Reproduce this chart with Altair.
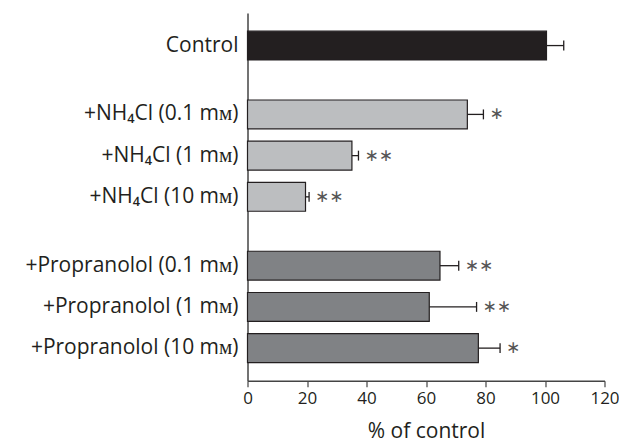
import altair as alt
import pandas as pd

labels = ["Control", "+NH₄Cl (0.1 mᴍ)", "+NH₄Cl (1 mᴍ)", "+NH₄Cl (10 mᴍ)",
          "+Propranolol (0.1 mᴍ)", "+Propranolol (1 mᴍ)", "+Propranolol (10 mᴍ)"]
values = [100.5, 73.9, 35.1, 19.5, 64.7, 61.1, 77.6]
errors = [5.8, 5.4, 2.2, 1.2, 6.3, 15.9, 7.3]
stars = ["", "∗", "∗∗", "∗∗", "∗∗", "∗∗", "∗"]
groups = ["Control", "NH4Cl", "NH4Cl", "NH4Cl", "Propranolol", "Propranolol", "Propranolol"]
group_index = [0, 1, 1, 1, 2, 2, 2]

GAP = 0.67
df = pd.DataFrame({
    "label": labels,
    "value": values,
    "err": errors,
    "star": stars,
    "group": groups,
    "pos": [i + g * GAP for i, g in enumerate(group_index)],
})

FONT = "Open Sans"
DARK = "#231f20"

ysc = alt.Scale(domain=[-0.79, 8.13], reverse=True, nice=False, zero=False)
xsc = alt.Scale(domain=[0, 120], nice=False)

base = alt.Chart(df).transform_calculate(
    y0="datum.pos - 0.35", y1="datum.pos + 0.35",
    hi="datum.value + datum.err",
    c0="datum.pos - 0.12", c1="datum.pos + 0.12",
)

bars = base.mark_bar(stroke=DARK, strokeWidth=1.2).encode(
    x=alt.X("zero:Q", scale=xsc,
            axis=alt.Axis(values=[0, 20, 40, 60, 80, 100, 120], title="% of control",
                          grid=False, tickSize=6, tickColor="#444", domainColor="#444",
                          domainWidth=1.5, tickWidth=1.2, labelFont=FONT, labelFontSize=17,
                          labelColor=DARK, titleFont=FONT, titleFontSize=21,
                          titleFontWeight="normal", titleColor=DARK, labelPadding=4,
                          titlePadding=14, labelFlush=False)),
    x2="value:Q",
    y=alt.Y("y0:Q", scale=ysc,
            axis=alt.Axis(title=None, labels=False, ticks=False, grid=False,
                          domainColor="#444", domainWidth=1.5)),
    y2="y1:Q",
    color=alt.Color("group:N", legend=None,
                    scale=alt.Scale(domain=["Control", "NH4Cl", "Propranolol"],
                                    range=[DARK, "#bcbec0", "#808285"])),
).transform_calculate(zero="0")

err_line = base.mark_rule(color=DARK, strokeWidth=1.3).encode(
    x="value:Q", x2="hi:Q", y="pos:Q"
)
err_cap = base.mark_rule(color=DARK, strokeWidth=1.3).encode(
    x="hi:Q", y="c0:Q", y2="c1:Q"
)
star_text = base.mark_text(align="left", baseline="middle", dx=6, font="DejaVu Sans",
                           fontSize=17, color="#555555").encode(
    x="hi:Q", y="pos:Q", text="star:N"
)
label_text = base.mark_text(align="right", baseline="middle", font=FONT,
                            fontSize=21, color=DARK).encode(
    x=alt.value(-9), y="pos:Q", text="label:N"
)

chart = alt.layer(bars, err_line, err_cap, star_text, label_text).properties(
    width=357, height=367.7,
    autosize=alt.AutoSizeParams(type="none"),
    padding={"left": 239.5, "top": 5, "right": 14, "bottom": 72},
    background="white",
).configure_view(stroke=None)

chart.save("out.html", embed_options={"renderer": "svg", "actions": False})
